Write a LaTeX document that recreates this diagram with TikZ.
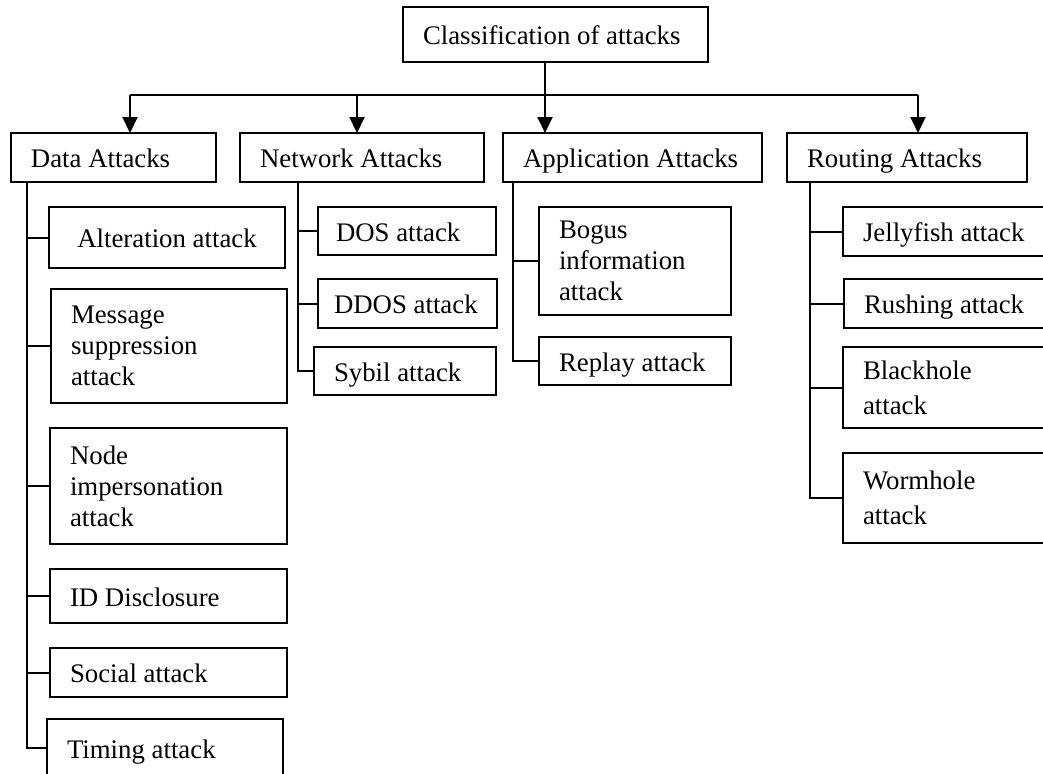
\documentclass[tikz,border=0pt]{standalone}
\usepackage{fontspec}
\setmainfont{Liberation Serif}
\usetikzlibrary{arrows.meta,positioning}

\begin{document}
\begin{tikzpicture}[
    x=0.5pt, y=-0.5pt,
    box/.style={rectangle, draw, line width=1pt, anchor=north west, align=flush left, inner xsep=10pt, inner ysep=0pt, outer sep=0pt, font=\fontsize{13.4pt}{15.5pt}\selectfont},
    one/.style={text height=11pt, text depth=1pt},
    cat/.style={box, one, minimum height=24.5pt},
    leaf/.style={box},
    wide/.style={font=\fontsize{13.4pt}{17.5pt}\selectfont},
    link/.style={line width=1pt},
    arr/.style={-{Triangle[width=7.5pt,length=8pt]}, line width=1pt}
]
\useasboundingbox (0,0) rectangle (1043,773);
\clip (0,0) rectangle (1043,773);

% ============ root and categories ============
\node[box, one, minimum height=27.5pt, text width=132.5pt] (root) at (403,7) {Classification of attacks};

\node[cat, text width=82.5pt]  (data) at (11,133)  {Data Attacks};
\node[cat, text width=102pt]   (net)  at (240,133) {Network Attacks};
\node[cat, text width=109.5pt] (app)  at (503,133) {Application Attacks};
\node[cat, text width=100pt]   (rout) at (787,133) {Routing Attacks};

\coordinate (bus) at (545,95);
\coordinate (tip-data) at (130,133);
\coordinate (tip-net)  at (357,133);
\coordinate (tip-app)  at (545,133);
\coordinate (tip-rout) at (918,133);

\draw[link] (root.south -| bus) -- (bus);
\draw[link] (bus -| tip-data) -- (bus -| tip-rout);
\foreach \c in {data,net,app,rout}
    \draw[arr] (bus -| tip-\c) -- (tip-\c |- \c.north);

% ============ data attacks ============
\node[leaf, one, minimum height=30.5pt, text width=98pt, align=flush center] (alter) at (49,207) {Alteration attack};
\node[leaf, minimum height=57pt, text width=98pt] (msg) at (51,289) {Message\\suppression\\attack};
\node[leaf, minimum height=58pt, text width=98.5pt] (imper) at (50,428) {Node\\impersonation\\attack};
\node[leaf, one, minimum height=27pt, text width=98.5pt] (idd) at (50,569) {ID Disclosure};
\node[leaf, one, minimum height=24.5pt, text width=98.5pt] (social) at (50,648) {Social attack};
\node[leaf, one, minimum height=29pt, text width=98pt] (timing) at (47,719) {Timing attack};

\coordinate (spine-data) at (27,0);
\draw[link] (data.south -| spine-data) |- (timing.west);
\foreach \l in {alter,msg,imper,idd,social}
    \draw[link] (spine-data |- \l.west) -- (\l.west);

% ============ network attacks ============
\node[leaf, one, minimum height=24pt, inner xsep=9pt, text width=71pt] (dos) at (318,207) {DOS attack};
\node[leaf, one, minimum height=24.5pt, inner xsep=8pt, text width=73.5pt] (ddos) at (318,279) {DDOS attack};
\node[leaf, one, minimum height=24pt, text width=71pt] (sybil) at (314,347) {Sybil attack};

\coordinate (spine-net) at (298,0);
\draw[link] (net.south -| spine-net) |- (sybil.west);
\foreach \l in {dos,ddos}
    \draw[link] (spine-net |- \l.west) -- (\l.west);

% ============ application attacks ============
\node[leaf, minimum height=54pt, text width=76pt] (bogus) at (539,207) {Bogus\\information\\attack};
\node[leaf, one, minimum height=24pt, text width=76pt] (replay) at (539,337) {Replay attack};

\coordinate (spine-app) at (513,0);
\draw[link] (app.south -| spine-app) |- (replay.west);
\draw[link] (spine-app |- bogus.west) -- (bogus.west);

% ============ routing attacks ============
\node[leaf, one, minimum height=24.5pt, text width=90pt] (jelly) at (843,207) {Jellyfish attack};
\node[leaf, one, minimum height=24.5pt, text width=90pt] (rush) at (844,279) {Rushing attack};
\node[leaf, wide, minimum height=40.5pt, text width=90pt] (black) at (843,347) {Blackhole\\attack};
\node[leaf, wide, minimum height=45pt, text width=90pt] (worm) at (843,453) {Wormhole\\attack};

\coordinate (spine-rout) at (810,0);
\draw[link] (rout.south -| spine-rout) |- (worm.west);
\foreach \l in {jelly,rush,black}
    \draw[link] (spine-rout |- \l.west) -- (\l.west);

\end{tikzpicture}
\end{document}
